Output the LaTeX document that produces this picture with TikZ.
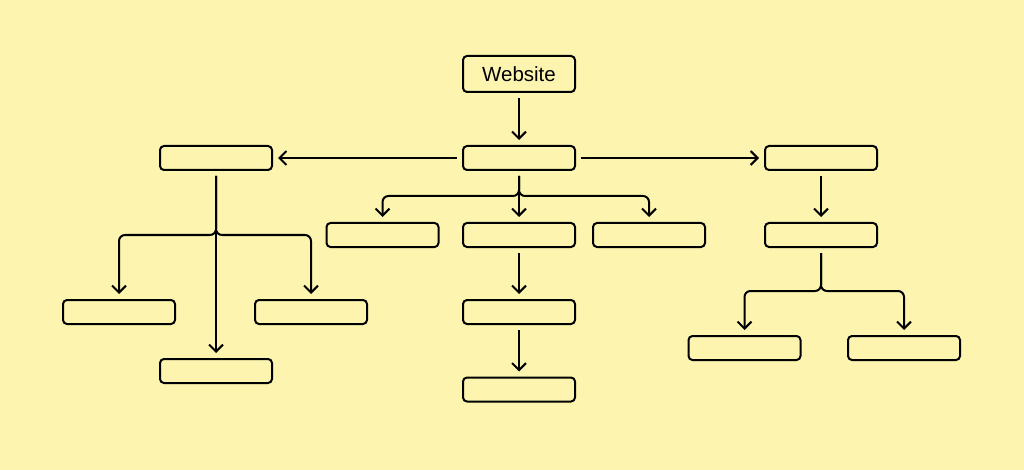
\documentclass[tikz,border=0pt]{standalone}
\usepackage{fontspec}
\setmainfont{Liberation Sans}
\usetikzlibrary{arrows.meta,calc}
\definecolor{bg}{RGB}{253,245,175}
\tikzset{
  box/.style={draw=black, line width=2pt, rounded corners=4pt, minimum width=112pt, minimum height=24pt, inner sep=0pt, fill=bg},
  title/.style={box, minimum height=36pt, font=\fontsize{20.5}{24}\selectfont},
  conn/.style={draw=black, line width=2pt, -{Straight Barb[length=7pt,width=14pt]}, shorten <=5pt, shorten >=5pt},
  branch/.style={conn, rounded corners=6pt},
}
\begin{document}
\begin{tikzpicture}[x=1pt,y=-1pt]
\fill[bg] (0,0) rectangle (1024,470);
\path[use as bounding box] (0,0) rectangle (1024,470);
\node[title] (web) at (519,74) {Website};
\node[box] (c1) at (519,158) {};
\node[box] (l1) at (216,158) {};
\node[box] (r1) at (821,158) {};
\node[box] (m1) at (382.5,235) {};
\node[box] (m2) at (519,235) {};
\node[box] (m3) at (649,235) {};
\node[box] (la) at (119,312) {};
\node[box] (lb) at (311,312) {};
\node[box] (lc) at (216,371) {};
\node[box] (c3) at (519,312) {};
\node[box] (c4) at (519,389.5) {};
\node[box] (r2) at (821,235) {};
\node[box] (r3) at (744.5,348) {};
\node[box] (r4) at (904,348) {};
\coordinate (jc) at (519,196);
\coordinate (jl) at (216,235);
\coordinate (jr) at (821,291);
\draw[conn] (web) -- (c1);
\draw[conn] (c1) -- (l1);
\draw[conn] (c1) -- (r1);
\draw[branch] (c1.south) -- (jc) -| (m1.north);
\draw[conn] (c1) -- (m2);
\draw[branch] (c1.south) -- (jc) -| (m3.north);
\draw[conn] (l1) -- (lc);
\draw[branch] (l1.south) -- (jl) -| (la.north);
\draw[branch] (l1.south) -- (jl) -| (lb.north);
\draw[conn] (m2) -- (c3);
\draw[conn] (c3) -- (c4);
\draw[conn] (r1) -- (r2);
\draw[branch] (r2.south) -- (jr) -| (r3.north);
\draw[branch] (r2.south) -- (jr) -| (r4.north);
\end{tikzpicture}
\end{document}
